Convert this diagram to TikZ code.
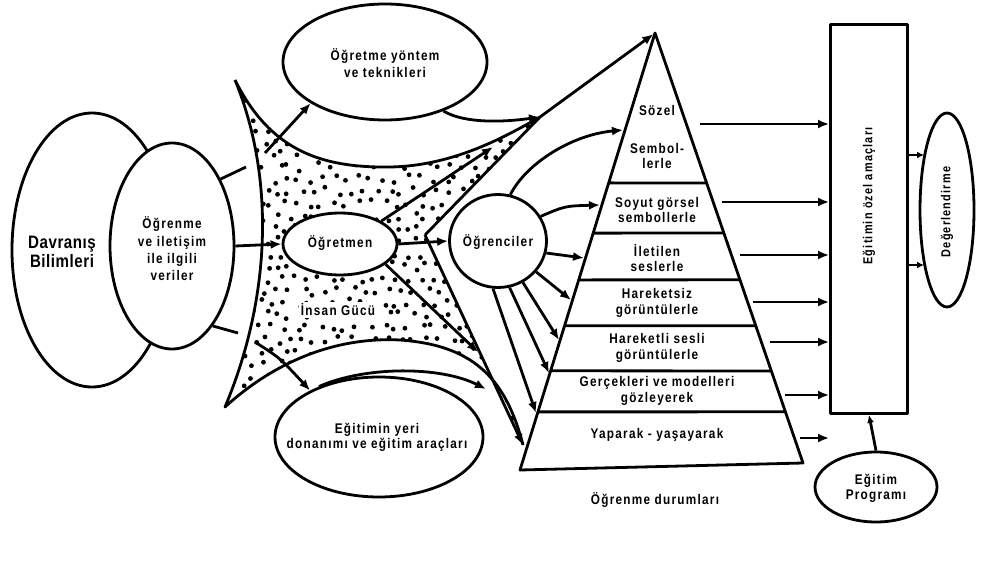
\documentclass[tikz,border=0pt]{standalone}
\usepackage{fontspec}
\setmainfont{Liberation Sans}[FakeStretch=0.84,LetterSpace=9]
\usetikzlibrary{arrows.meta,calc,shapes.geometric}
\begin{document}
\begin{tikzpicture}[x=1pt,y=-1pt,line width=2.8pt,line join=round,
  arr/.style={-{Latex[length=11pt,width=9pt]}},
  oval/.style={draw,ellipse,fill=white,inner sep=0pt},
  txt/.style={font=\bfseries\fontsize{14}{16}\selectfont,align=center,inner sep=0pt},
  ptxt/.style={font=\bfseries\fontsize{14}{15.5}\selectfont,align=center,inner sep=0pt}]
\useasboundingbox (0,0) rectangle (984,585);

% ---------- star shaped "Insan Gucu" region ----------
\coordinate (sTL) at (235,80);
\coordinate (sTR) at (540,117);
\coordinate (sR)  at (425,235);
\coordinate (sBR) at (523,445);
\coordinate (sBL) at (225,407);
\coordinate (apex) at (655,33);
\begin{scope}
  \clip (235,80) .. controls (270,150) and (320,168) .. (390,167)
        .. controls (450,166) and (500,140) .. (540,117) -- (425,235) -- (523,445)
        .. controls (505,375) and (470,345) .. (400,340)
        .. controls (320,336) and (260,375) .. (225,407)
        .. controls (270,300) and (276,180) .. (235,80) -- cycle;
  \pgfmathsetseed{11}
  \foreach \i in {0,...,26}{
    \foreach \j in {0,...,29}{
      \pgfmathsetmacro\px{222+\i*12.4+mod(\j,2)*6.2+4.5*rand}
      \pgfmathsetmacro\py{80+\j*12.4+4.5*rand}
      \fill (\px,\py) circle (2.4pt);
    }
  }
\end{scope}
\draw (sTL) .. controls (270,150) and (320,168) .. (390,167)
        .. controls (450,166) and (500,140) .. (sTR) -- (sR)
      (sBR) .. controls (505,375) and (470,345) .. (400,340)
        .. controls (320,336) and (260,375) .. (sBL)
        .. controls (270,300) and (276,180) .. (sTL);
\draw[arr] (sR) -- (sBR);
\draw[arr,shorten >=2pt] (sTR) -- (apex);

% ---------- left ellipses ----------
\node[oval,fill=none,minimum width=160pt,minimum height=274pt] (dav) at (92,250) {};
\node[txt,font=\bfseries\fontsize{18}{19}\selectfont\addfontfeatures{LetterSpace=3}] (davT) at (62,252) {Davranış\\Bilimleri};
\node[oval,minimum width=124pt,minimum height=206pt] (ogr) at (172,246) {};
\node[txt,font=\bfseries\fontsize{14}{17.3}\selectfont] (ogrT) at (172,249) {Öğrenme\\ve iletişim\\ile ilgili\\veriler};

% ---------- other ellipses ----------
\node[oval,minimum width=204pt,minimum height=116pt] (oyt) at (385,62) {};
\node[txt,font=\bfseries\fontsize{14}{17}\selectfont] (oytT) at (385,63) {Öğretme yöntem\\ve teknikleri};
\node[oval,minimum width=114pt,minimum height=62pt] (ogt) at (340,244) {};
\node[txt] (ogtT) at (340,243) {Öğretmen};
\node[oval,minimum width=97pt,minimum height=93pt] (ogc) at (498,241) {};
\node[txt] (ogcT) at (498,242) {Öğrenciler};
\node[oval,minimum width=208pt,minimum height=120pt] (eyd) at (379,437) {};
\node[txt,font=\bfseries\fontsize{14}{15}\selectfont] (eydT) at (377,437) {Eğitimin yeri\\donanımı ve eğitim araçları};
\node[txt,fill=white,inner sep=2pt] (ig) at (338,310) {İnsan Gücü};

% ---------- connectors on the left ----------
\coordinate (c1) at (246,167);
\coordinate (c2) at (238,333);
\draw (ogr.54) -- (c1);
\draw (ogr.-63) -- (c2);
\draw[arr] (ogr.east) -- (ogt.west);

% arrows from the star
\coordinate (u1) at (265,153);
\draw[arr] (u1) -- (oyt.209);
\coordinate (l1) at (255,342);
\draw[arr] (l1) .. controls (280,358) .. (eyd.146);
\coordinate (e1) at (486,389);
\draw[arr] (eyd.140) .. controls (365,366) and (440,366) .. (e1);
\draw[arr] (oyt.-40) .. controls (465,124) and (505,122) .. (sTR);
\coordinate (t1) at (493,147);
\draw[arr] (ogt.29) -- (t1);
\draw[arr] (ogt.east) -- (ogc.west);
\coordinate (t2) at (478,352);
\draw[arr] (ogt.-24) -- (t2);

% ---------- pyramid ----------
\coordinate (pBL) at (520,470);
\coordinate (pBR) at (803,463);
\draw[fill=white] (apex) -- (pBR) -- (pBL) -- cycle;
\foreach \tl/\tr in {.343/.349,.458/.465,.565/.574,.670/.681,.773/.786,.867/.881}{
  \draw ($(apex)!\tl!(pBL)$) -- ($(apex)!\tr!(pBR)$);
}
\node[ptxt] (p1a) at (657,110) {Sözel};
\node[ptxt] (p1b) at (657,156) {Sembol-\\lerle};
\node[ptxt] (p2) at (657,210) {Soyut görsel\\sembollerle};
\node[ptxt] (p3) at (657,258) {İletilen\\seslerle};
\node[ptxt] (p4) at (657,303) {Hareketsiz\\görüntülerle};
\node[ptxt] (p5) at (657,348) {Hareketli sesli\\görüntülerle};
\node[ptxt] (p6) at (657,391) {Gerçekleri ve modelleri\\gözleyerek};
\node[ptxt] (p7) at (657,435) {Yaparak - yaşayarak};
\node[ptxt] (od) at (655,500) {Öğrenme durumları};

% arrows from Ogrenciler to pyramid
\coordinate (g1) at (623,130);
\coordinate (g2) at (600,205);
\coordinate (g3) at (584,258);
\coordinate (g4) at (571,300);
\coordinate (g5) at (559,340);
\coordinate (g6) at (549,373);
\coordinate (g7) at (536,413);
\draw[arr] (ogc.75) .. controls (525,165) and (570,135) .. (g1);
\draw[arr] (ogc.30) .. controls (565,206) .. (g2);
\draw[arr] (ogc.-14) -- (g3);
\draw[arr] (ogc.-39) -- (g4);
\draw[arr] (ogc.-59) -- (g5);
\draw[arr] (ogc.-76) -- (g6);
\draw[arr] (ogc.-96) -- (g7);

% ---------- objectives box ----------
\node[draw,minimum width=77pt,minimum height=389pt,inner sep=0pt] (rect) at (869,219) {};
\node[txt,font=\bfseries\fontsize{13}{14}\selectfont,rotate=90] (rectT) at (869,196) {Eğitimin özel amaçları};
\foreach \n/\x/\y in {1/700/124,2/722/202,3/740/255,4/753/302,5/770/342,6/785/395,7/800/438}{
  \coordinate (r\n) at (\x,\y);
  \draw[arr] (r\n) -- (rect.west |- r\n);
}

% ---------- evaluation ----------
\node[oval,minimum width=54pt,minimum height=194pt] (deg) at (947,210) {};
\node[txt,font=\bfseries\fontsize{13}{14}\selectfont,rotate=90] (degT) at (947,212) {Değerlendirme};
\coordinate (d1) at (924,155);
\coordinate (d2) at (924,265);
\draw[arr,-{Latex[length=7pt,width=7pt]}] (rect.east |- d1) -- (d1);
\draw[arr,-{Latex[length=7pt,width=7pt]}] (rect.east |- d2) -- (d2);

% ---------- program ----------
\node[oval,minimum width=122pt,minimum height=70pt] (prog) at (876,487) {};
\node[txt,font=\bfseries\fontsize{14}{15}\selectfont] (progT) at (876,488) {Eğitim\\Programı};
\draw[arr,-{Latex[length=8pt,width=7pt]}] (prog.north) -- (rect.south);
\end{tikzpicture}
\end{document}
